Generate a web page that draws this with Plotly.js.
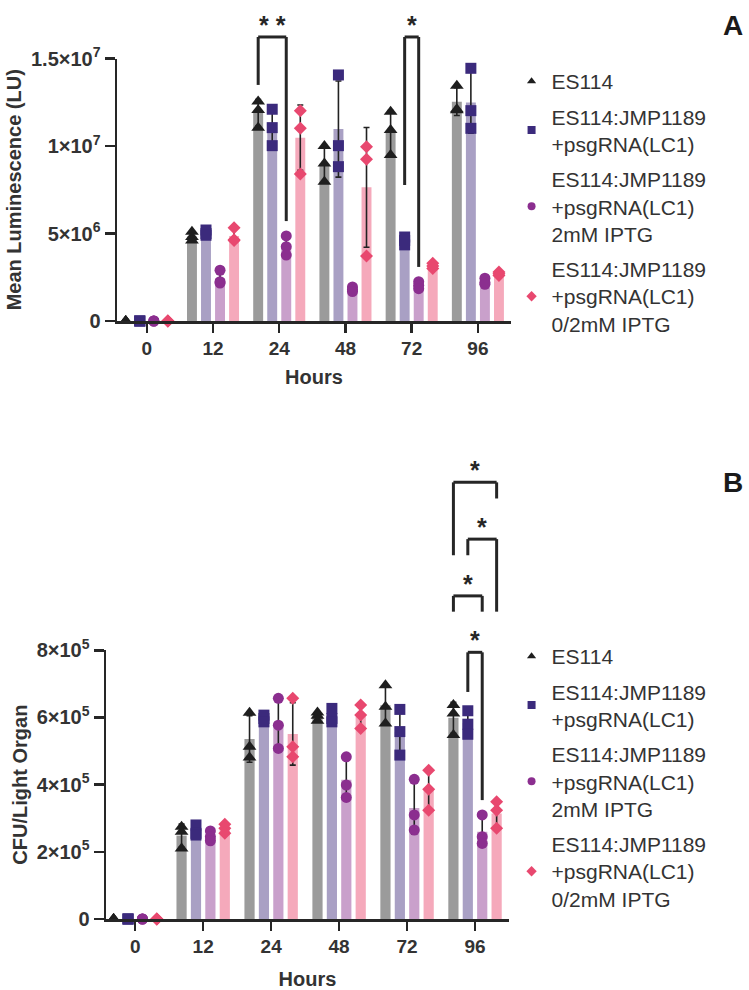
<!DOCTYPE html>
<html>
<head>
<meta charset="utf-8">
<script src="https://cdn.plot.ly/plotly-3.0.1.min.js"></script>
<style>html,body{margin:0;padding:0;background:#fff;}#chart{width:749px;height:990px;}</style>
</head>
<body>
<div id="chart"></div>
<script>
// ---------- DATA ----------
const groups = ['0', '12', '24', '48', '72', '96'];
const seriesNames = [
  'ES114',
  'ES114:JMP1189<br>+psgRNA(LC1)',
  'ES114:JMP1189<br>+psgRNA(LC1)<br>2mM IPTG',
  'ES114:JMP1189<br>+psgRNA(LC1)<br>0/2mM IPTG'
];

// Panel A: mean luminescence (LU), three replicates per time point
const lumES114 = [[0, 0, 0], [5.1e6, 4.8e6, 4.6e6], [12.55e6, 12.06e6, 11.05e6], [10.0e6, 9.0e6, 7.96e6], [11.96e6, 10.91e6, 9.49e6], [13.45e6, 12.1e6, 12.05e6]];
const lumLC1 = [[0, 0, 0], [5.2e6, 5.0e6, 4.9e6], [12.1e6, 11.05e6, 10.02e6], [14.06e6, 10.02e6, 8.82e6], [4.8e6, 4.6e6, 4.35e6], [14.44e6, 12.02e6, 11.01e6]];
const lumLC1IPTG = [[0, 0, 0], [2.9e6, 2.25e6, 2.17e6], [4.86e6, 4.25e6, 3.77e6], [1.95e6, 1.8e6, 1.68e6], [2.25e6, 2.05e6, 1.85e6], [2.45e6, 2.2e6, 2.1e6]];
const lumLC1Switch = [[0, 0, 0], [5.33e6, 4.65e6, 4.6e6], [12.02e6, 11.01e6, 8.4e6], [9.96e6, 9.24e6, 3.71e6], [3.3e6, 3.15e6, 3.0e6], [2.8e6, 2.7e6, 2.6e6]];

// Panel B: CFU per light organ, three replicates per time point
const cfuES114 = [[0, 0, 0], [2.75e5, 2.6e5, 2.1e5], [6.14e5, 5.13e5, 4.81e5], [6.15e5, 6.05e5, 5.9e5], [6.96e5, 6.32e5, 5.82e5], [6.37e5, 6.12e5, 5.48e5]];
const cfuLC1 = [[0, 0, 0], [2.8e5, 2.55e5, 2.5e5], [6.07e5, 5.97e5, 5.87e5], [6.27e5, 5.97e5, 5.87e5], [6.24e5, 5.58e5, 4.88e5], [6.2e5, 5.8e5, 5.5e5]];
const cfuLC1IPTG = [[0, 0, 0], [2.62e5, 2.45e5, 2.33e5], [6.57e5, 5.77e5, 5.08e5], [4.83e5, 3.99e5, 3.62e5], [4.16e5, 3.1e5, 2.65e5], [3.1e5, 2.45e5, 2.25e5]];
const cfuLC1Switch = [[0, 0, 0], [2.82e5, 2.7e5, 2.55e5], [6.57e5, 5.13e5, 4.83e5], [6.37e5, 6.07e5, 5.67e5], [4.43e5, 3.86e5, 3.24e5], [3.49e5, 3.24e5, 2.7e5]];

// Axis ticks
const lumTickVals = [0, 5e6, 1e7, 1.5e7];
const lumTickText = ['0', '5×10<sup>6</sup>', '1×10<sup>7</sup>', '1.5×10<sup>7</sup>'];
const cfuTickVals = [0, 2e5, 4e5, 6e5, 8e5];
const cfuTickText = ['0', '2×10<sup>5</sup>', '4×10<sup>5</sup>', '6×10<sup>5</sup>', '8×10<sup>5</sup>'];

// Significance comparisons: [group index, left series, right series, bracket top, left leg end, right leg end, label]
const sigA = [
  [2, 0, 2, 16.23e6, 13.49e6, 5.71e6, '* *'],
  [4, 1, 2, 16.23e6, 7.77e6, 3.09e6, '*']
];
const sigB = [
  [5, 0, 3, 13.0e5, 10.83e5, 12.52e5, '*'],
  [5, 1, 3, 11.31e5, 10.83e5, 9.15e5, '*'],
  [5, 0, 2, 9.62e5, 9.15e5, 9.15e5, '*'],
  [5, 1, 2, 7.94e5, 6.76e5, 3.54e5, '*']
];

// ---------- STYLE ----------
const barColors = ['#9b9b9b', '#a9a0c4', '#c9a0cb', '#f5a9bb'];
const markerColors = ['#1e1e1e', '#3b2a7c', '#8b2e8f', '#e8486f'];
const symbols = ['triangle-up', 'square', 'circle', 'diamond'];
const markerSizes = [12, 11, 11, 10];
const legendMarkerSizes = [8, 8, 8, 8];
const offsets = [-0.318, -0.106, 0.106, 0.318];
const barWidth = 0.15;
const axisColor = '#262626';
const textColor = '#333333';
const FONT = 'Liberation Sans, Arial, Helvetica, sans-serif';

const domA = { x: [117 / 749, 511 / 749], y: [(990 - 321) / 990, (990 - 58.5) / 990] };
const domB = { x: [106 / 749, 509 / 749], y: [(990 - 919) / 990, (990 - 650.3) / 990] };
const rangeA = [0, 1.5e7];
const rangeB = [0, 8e5];

function mean(a) { return a.reduce((s, v) => s + v, 0) / a.length; }
function sd(a) {
  const m = mean(a);
  return Math.sqrt(a.reduce((s, v) => s + (v - m) * (v - m), 0) / (a.length - 1));
}

function panelTraces(seriesData, xa, ya, legendId) {
  const traces = [];
  seriesData.forEach((reps, s) => {
    traces.push({
      type: 'bar',
      x: groups.map((g, i) => i + offsets[s]),
      y: reps.map(mean),
      width: barWidth,
      marker: { color: barColors[s], line: { width: 0 } },
      error_y: { type: 'data', array: reps.map(sd), symmetric: true, color: '#222', thickness: 1.6, width: 3 },
      xaxis: xa, yaxis: ya,
      showlegend: false,
      hoverinfo: 'skip'
    });
  });
  seriesData.forEach((reps, s) => {
    const xs = [], ys = [];
    reps.forEach((r, i) => r.forEach(v => { xs.push(i + offsets[s]); ys.push(v); }));
    traces.push({
      type: 'scatter',
      mode: 'markers',
      name: seriesNames[s],
      x: xs, y: ys,
      marker: { symbol: symbols[s], color: markerColors[s], size: markerSizes[s], line: { width: 0 } },
      cliponaxis: false,
      xaxis: xa, yaxis: ya,
      showlegend: false
    });
  });
  // legend-only entries with small symbols, as in the reference key
  seriesData.forEach((reps, s) => {
    traces.push({
      type: 'scatter',
      mode: 'markers',
      name: seriesNames[s],
      x: [null], y: [null],
      marker: { symbol: symbols[s], color: markerColors[s], size: legendMarkerSizes[s], line: { width: 0 } },
      xaxis: xa, yaxis: ya,
      legend: legendId,
      legendgroup: legendId + s,
      showlegend: true
    });
  });
  return traces;
}

const traces = [].concat(
  panelTraces([lumES114, lumLC1, lumLC1IPTG, lumLC1Switch], 'x', 'y', 'legend'),
  panelTraces([cfuES114, cfuLC1, cfuLC1IPTG, cfuLC1Switch], 'x2', 'y2', 'legend2')
);

function toPaper(v, dom, range) { return dom.y[0] + (v - range[0]) / (range[1] - range[0]) * (dom.y[1] - dom.y[0]); }

const shapes = [];
const annotations = [];
function addSig(list, xref, dom, range) {
  list.forEach(([g, sl, sr, top, legL, legR, label]) => {
    const xl = g + offsets[sl], xr = g + offsets[sr];
    const yt = toPaper(top, dom, range);
    const line = { color: axisColor, width: 3 };
    shapes.push({ type: 'line', xref: xref, yref: 'paper', x0: xl, x1: xl, y0: toPaper(legL, dom, range), y1: yt, line: line });
    shapes.push({ type: 'line', xref: xref, yref: 'paper', x0: xl, x1: xr, y0: yt, y1: yt, line: line });
    shapes.push({ type: 'line', xref: xref, yref: 'paper', x0: xr, x1: xr, y0: toPaper(legR, dom, range), y1: yt, line: line });
    annotations.push({ xref: xref, yref: 'paper', x: (xl + xr) / 2, y: yt, yanchor: 'bottom', xanchor: 'center', yshift: -4,
      text: label, showarrow: false, font: { family: FONT, size: 25, color: axisColor, weight: 'bold' } });
  });
}
addSig(sigA, 'x', domA, rangeA);
addSig(sigB, 'x2', domB, rangeB);

annotations.push({ xref: 'paper', yref: 'paper', x: 733 / 749, y: 1 - 25 / 990, xanchor: 'center', yanchor: 'middle', text: 'A', showarrow: false, font: { family: FONT, size: 28, color: '#1a1a1a', weight: 'bold' } });
annotations.push({ xref: 'paper', yref: 'paper', x: 733 / 749, y: 1 - 483 / 990, xanchor: 'center', yanchor: 'middle', text: 'B', showarrow: false, font: { family: FONT, size: 28, color: '#1a1a1a', weight: 'bold' } });

const tickFont = { family: FONT, size: 19, color: textColor, weight: 'bold' };
const titleFont = { family: FONT, size: 20, color: textColor, weight: 'bold' };

function xAxis(dom, range, anchor, standoff) {
  return {
    domain: dom.x, range: range, anchor: anchor,
    tickmode: 'array', tickvals: groups.map((g, i) => i), ticktext: groups,
    showline: true, linecolor: axisColor, linewidth: 2.5,
    ticks: 'outside', ticklen: 9, tickwidth: 2.5, tickcolor: axisColor,
    tickfont: tickFont, showgrid: false, zeroline: false, fixedrange: true,
    title: { text: 'Hours', font: titleFont, standoff: standoff }
  };
}
function yAxis(dom, range, tv, tt, title, anchor) {
  return {
    domain: dom.y, range: range, anchor: anchor,
    tickmode: 'array', tickvals: tv, ticktext: tt,
    showline: true, linecolor: axisColor, linewidth: 2.5,
    ticks: 'outside', ticklen: 10, tickwidth: 2.5, tickcolor: axisColor,
    tickfont: { family: FONT, size: 20, color: textColor, weight: 'bold' },
    showgrid: false, zeroline: false, fixedrange: true,
    title: { text: title, font: titleFont, standoff: 4 }
  };
}

const legendCommon = {
  xanchor: 'left', yanchor: 'top',
  font: { family: FONT, size: 21, color: textColor },
  itemsizing: 'trace', bgcolor: 'rgba(0,0,0,0)', borderwidth: 0,
  traceorder: 'grouped',
  tracegroupgap: 5
};

const layout = {
  width: 749, height: 990,
  margin: { l: 0, r: 0, t: 0, b: 0 },
  paper_bgcolor: '#ffffff', plot_bgcolor: '#ffffff',
  font: { family: FONT, color: textColor },
  barmode: 'overlay',
  xaxis: xAxis(domA, [-0.45, 5.5], 'y', 12),
  yaxis: yAxis(domA, rangeA, lumTickVals, lumTickText, 'Mean Luminescence (LU)', 'x'),
  xaxis2: xAxis(domB, [-0.43, 5.5], 'y2', 18),
  yaxis2: yAxis(domB, rangeB, cfuTickVals, cfuTickText, 'CFU/Light Organ', 'x2'),
  legend: Object.assign({ x: 0.683, y: 1 - 61 / 990 }, legendCommon),
  legend2: Object.assign({ x: 0.683, y: 1 - 636 / 990 }, legendCommon),
  shapes: shapes,
  annotations: annotations,
  showlegend: true
};

Plotly.newPlot('chart', traces, layout, { displayModeBar: false, staticPlot: true });
</script>
</body>
</html>
